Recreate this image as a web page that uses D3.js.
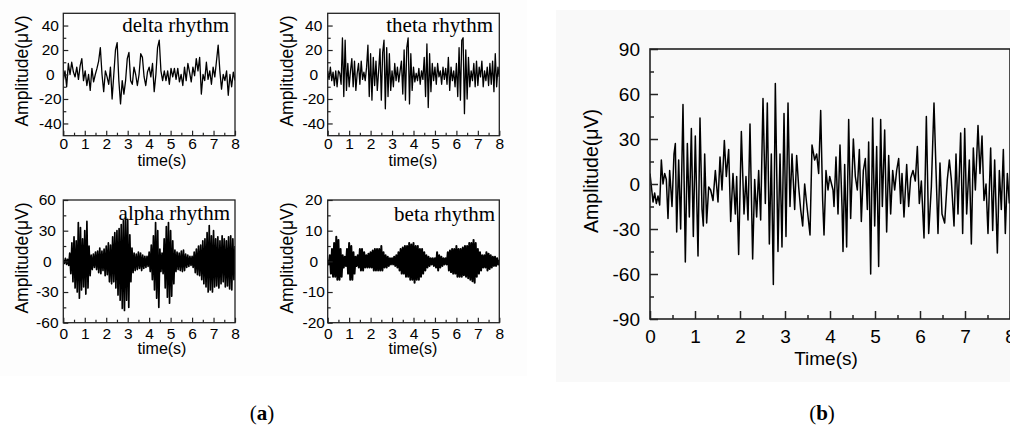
<!DOCTYPE html>
<html><head><meta charset="utf-8">
<script src="https://cdn.jsdelivr.net/npm/d3@7"></script>
<style>html,body{margin:0;padding:0;background:#fff;overflow:hidden;} svg{display:block;}</style>
</head><body>
<script>
// ---------------- data ----------------
const timeTicks = [0, 1, 2, 3, 4, 5, 6, 7, 8];
const timeMinorTicks = [0.5, 1.5, 2.5, 3.5, 4.5, 5.5, 6.5, 7.5];

const rhythmNames = ["delta rhythm", "theta rhythm", "alpha rhythm", "beta rhythm"];

const deltaYTicks = [-40, -20, 0, 20, 40];
const deltaYMinor = [-30, -10, 10, 30];
const thetaYTicks = [-40, -20, 0, 20, 40];
const thetaYMinor = [-30, -10, 10, 30];
const alphaYTicks = [-60, -30, 0, 30, 60];
const alphaYMinor = [-45, -15, 15, 45];
const betaYTicks = [-20, -10, 0, 10, 20];
const betaYMinor = [-15, -5, 5, 15];
const rawYTicks = [-90, -60, -30, 0, 30, 60, 90];
const rawYMinor = [-75, -45, -15, 15, 45, 75];

// delta rhythm (µV), evenly sampled over 0–8 s
const deltaValues = [-5, 3, -10, 9, 0, 10, 2, -2, 6, -4, 7, 13, -5, 3, -9, 0, -13, 5, -6, 0,
  5, 11, 22, 0, -14, 3, -2, -8, 6, -20, 0, 20, 26, -5, -24, -5, -16, -5, 13, 18,
  -5, -8, 6, 0, -9, 0, 17, 14, -2, -9, 2, 6, -2, 9, -14, 0, 22, 28, 3, -5,
  3, -5, 3, -8, 5, -2, 5, -4, 5, -6, 0, -9, 6, -5, 9, 2, -6, 6, -1, 13,
  3, 14, -16, 0, -5, 10, -4, 3, -8, 6, -2, 11, 24, 3, -12, 0, -5, 3, -17, 0,
  -10, 2, -5];

// theta rhythm (µV), evenly sampled over 0–8 s
const thetaValues = [3, -4, 6, -5, 2, -9, 3, -10, 3, 1,
  -8, 30, -18, 28, -13, 9, -10, 3, 13, -10,
  11, -13, 1, 9, -8, 11, -4, 2, -5, 6,
  24, -18, 17, -21, 14, -9, 11, -13, 3, 21,
  -21, 18, 28, -28, 22, -18, 17, -13, 3, -10,
  9, -5, 6, -6, 3, 11, -16, 20, -21, 22,
  30, -24, 17, -13, 6, -6, 1, -5, 5, -8,
  3, -4, 14, -18, 25, -27, 17, -14, 9, -5,
  6, -8, 9, -2, 3, -8, 6, -4, 5, -8,
  14, -13, 6, -5, 3, -10, 9, -18, 22, -21,
  28, 30, -32, 20, -20, 14, -10, 3, -5, 9,
  -10, 11, -9, 6, -2, 11, -10, 3, -5, 6,
  -9, 9, -8, 11, -14, 17, -10, 6, -2];

// alpha rhythm (µV), evenly sampled over 0–8 s
const alphaValues = [1, -2, 3, -3, 2, -4, 8, -12, 18, -20,
  24, -26, 20, -30, 38, -36, 33, -28, 22, -25,
  30, -32, 39, -26, 15, -14, 6, -8, 7, -6,
  9, -8, 10, -11, 13, -12, 10, -9, 12, -14,
  15, -13, 18, -20, 16, -22, 24, -20, 28, -26,
  30, -33, 32, -38, 36, -46, 40, -48, 43, -38,
  41, -45, 26, -20, 13, -11, 8, -9, 7, -8,
  9, -7, 8, -9, 6, -7, 5, -6, 5, -5,
  9, -10, 16, -18, 25, -28, 38, -36, 30, -45,
  12, -10, 8, -12, 22, -26, 34, -35, 38, -41,
  30, -34, 20, -22, 11, -10, 9, -8, 8, -9,
  10, -10, 11, -9, 7, -6, 6, -5, 5, -4,
  5, -6, 9, -11, 12, -13, 15, -14, 16, -18,
  20, -22, 22, -25, 28, -30, 35, -28, 25, -30,
  30, -25, 22, -24, 24, -26, 20, -22, 25, -20,
  22, -25, 20, -24, 24, -27, 25, -28, 22, -18, 15];

// beta rhythm (µV), evenly sampled over 0–8 s
const betaValues = [0.5, -1, 2, -4, 4, -5, 6, -5, 8, -6,
  7, -6, 4, -5, 2, -2, 1.5, -1.5, 4, -4,
  6, -6, 5, -6, 3, -4, 1.5, -1.5, 2, -2,
  4, -3, 4, -3, 3, -2, 2, -2, 2.5, -2,
  3, -2, 3.5, -3, 4, -3, 4, -3, 4, -3,
  5, -3, 3, -2, 2, -2, 1.5, -1.5, 1, -1,
  1, -1, 1.5, -1.5, 2, -2, 3, -3, 4, -4,
  4.5, -4, 5, -5, 5, -5, 6, -6, 5.5, -6,
  6, -7, 5, -6, 5, -6, 4, -5, 4, -4,
  3, -3, 2, -2, 1.5, -1.5, 1, -1, 1, -1.5,
  1, -2, 3, -3, 2, -2, 1.5, -1.5, 1, -1,
  1, -1, 3, -3, 3.5, -3.5, 4, -4, 4, -4,
  5, -5, 4, -5, 4, -5, 4.5, -4.5, 5, -5,
  5, -5.5, 6, -6, 6, -6.5, 7, -7, 6, -5,
  4, -4, 3, -3, 2, -2, 2, -2, 3, -3,
  2.5, -2.5, 2, -2, 1.5, -1.5, 1.5, -1.5, 1, -1, 0.5];

// raw EEG (panel b): sample times (s) and amplitudes (µV)
const rawTimes = [0, 0.067, 0.104, 0.141, 0.178, 0.215, 0.252, 0.289, 0.326, 0.363,
  0.4, 0.437, 0.489, 0.533, 0.563, 0.593, 0.637, 0.681, 0.733, 0.785,
  0.83, 0.874, 0.919, 0.963, 1.007, 1.067, 1.111, 1.156, 1.185, 1.215,
  1.259, 1.304, 1.348, 1.4, 1.452, 1.511, 1.556, 1.6, 1.652, 1.696,
  1.748, 1.793, 1.844, 1.896, 1.926, 1.97, 2.03, 2.089, 2.133, 2.178,
  2.222, 2.281, 2.326, 2.37, 2.415, 2.459, 2.511, 2.563, 2.607, 2.652,
  2.696, 2.741, 2.785, 2.844, 2.889, 2.933, 2.978, 3.022, 3.067, 3.111,
  3.156, 3.215, 3.259, 3.304, 3.348, 3.393, 3.437, 3.481, 3.556, 3.6,
  3.659, 3.704, 3.748, 3.793, 3.837, 3.867, 3.911, 3.956, 3.993,
  4.067, 4.089, 4.133, 4.178, 4.222, 4.267, 4.289, 4.326, 4.37, 4.415,
  4.459, 4.519, 4.563, 4.607, 4.652, 4.696, 4.741, 4.785, 4.83, 4.859,
  4.904, 4.948, 4.993, 5.037, 5.081, 5.126, 5.163, 5.215, 5.259, 5.304,
  5.348, 5.393, 5.437, 5.481, 5.526, 5.57, 5.6, 5.644, 5.704, 5.748,
  5.793, 5.844, 5.896, 5.941, 5.985, 6.03, 6.089, 6.141, 6.193, 6.252,
  6.311, 6.356, 6.4, 6.444, 6.489, 6.548, 6.607, 6.652, 6.696, 6.756,
  6.8, 6.844, 6.904, 6.948, 6.993, 7.037, 7.096, 7.141, 7.185, 7.23,
  7.289, 7.333, 7.378, 7.422, 7.467, 7.511, 7.57, 7.615, 7.659, 7.719,
  7.763, 7.807, 7.852, 7.896, 7.941, 7.985];
const rawValues = [7, -12, -6, -13, -8, -14, 16, 0, 7, 3,
  -23, 9, -15, 20, 27, -32, 16, -30, 53, -52,
  27, -22, 37, -35, 32, -48, 44, -17, -28, 20,
  -26, -2, -4, -11, 9, -12, 18, -4, 29, 5,
  23, -25, 7, -20, 5, -47, 35, -20, 5, -24,
  40, -50, 3, -22, 9, -24, 57, -13, 54, -40,
  20, -67, 67, -45, 20, -42, 47, -35, 54, -15,
  20, -17, 19, -2, -17, -28, 0, -13, -34, 26,
  16, 20, 7, 49, -11, -34, 9, -4, 5,
  -4, -15, 18, -20, 26, -15, -45, 13, -42, 43,
  -23, 30, 5, -4, 23, -25, 9, 17, -17, 28,
  -60, 44, -28, 25, -55, 43, -15, 36, -32, 19,
  -20, 9, -4, 9, 17, -13, 7, -22, 13, -15,
  4, 9, 2, 25, -13, 2, -36, 45, -33, -2,
  54, 9, -33, 14, -20, -26, 3, 16, 3, -28,
  20, -20, 34, -33, 37, -20, 16, -40, 24, -4,
  39, 7, 32, -11, 0, -33, 24, -31, 16, -46,
  9, -17, 23, -33, 7, -13];

// ---------------- drawing ----------------
const W = 1010, H = 427;
const svg = d3.select("body").append("svg").attr("width", W).attr("height", H);

svg.append("rect").attr("x", 0).attr("y", 0).attr("width", 527).attr("height", 376).attr("fill", "#fdfdfd");
svg.append("rect").attr("x", 556).attr("y", 10).attr("width", 454).attr("height", 372).attr("fill", "#f9f9f9");

const evenTimes = vals => vals.map((v, i) => i * 8 / (vals.length - 1));
const plainFmt = d => String(d);

const panels = [
  { name: rhythmNames[0], vals: deltaValues, yT: deltaYTicks, yM: deltaYMinor, dom: [-50, 50], sw: 1.3,
    x0: 63.3, x1: 235, y0: 13.3, y1: 135.7, ytx: 13, xpad: 2, tlx: 162, tly: 166, alx: 28, aly: 71, nmx: 229, nmy: 32 },
  { name: rhythmNames[1], vals: thetaValues, yT: thetaYTicks, yM: thetaYMinor, dom: [-50, 50], sw: 1.3,
    x0: 327.7, x1: 499.3, y0: 13.3, y1: 135.7, ytx: 14, xpad: 2, tlx: 413, tly: 166, alx: 293, aly: 71, nmx: 493, nmy: 32 },
  { name: rhythmNames[2], vals: alphaValues, yT: alphaYTicks, yM: alphaYMinor, dom: [-60, 60], sw: 1.7,
    x0: 63.3, x1: 235, y0: 200, y1: 322.7, ytx: 16, xpad: 5, tlx: 162, tly: 354, alx: 28, aly: 258, nmx: 230, nmy: 220 },
  { name: rhythmNames[3], vals: betaValues, yT: betaYTicks, yM: betaYMinor, dom: [-20, 20], sw: 2.0,
    x0: 327.7, x1: 499.3, y0: 200, y1: 322.7, ytx: 14, xpad: 5, tlx: 413, tly: 354, alx: 293, aly: 258, nmx: 495, nmy: 221 }
];

panels.forEach((p, k) => {
  const x = d3.scaleLinear().domain([0, 8]).range([p.x0, p.x1]);
  const y = d3.scaleLinear().domain(p.dom).range([p.y1, p.y0]);
  const g = svg.append("g");
  const clipId = "clipA" + k;
  svg.append("clipPath").attr("id", clipId).append("rect")
    .attr("x", p.x0).attr("y", p.y0).attr("width", p.x1 - p.x0).attr("height", p.y1 - p.y0);

  const times = evenTimes(p.vals);
  const line = d3.line().x((d, i) => x(times[i])).y(d => y(d));
  g.append("path").datum(p.vals).attr("d", line).attr("clip-path", `url(#${clipId})`)
    .attr("fill", "none").attr("stroke", "#000").attr("stroke-width", p.sw).attr("stroke-linejoin", "round");

  const gx = g.append("g").attr("transform", `translate(0,${p.y1})`)
    .call(d3.axisBottom(x).tickValues(timeTicks).tickSize(-5).tickPadding(p.xpad).tickFormat(plainFmt));
  g.append("g").attr("transform", `translate(0,${p.y1})`)
    .call(d3.axisBottom(x).tickValues(timeMinorTicks).tickSize(-3).tickFormat(""));
  const gy = g.append("g").attr("transform", `translate(${p.x0},0)`)
    .call(d3.axisLeft(y).tickValues(p.yT).tickSize(-5).tickPadding(p.ytx).tickFormat(plainFmt));
  g.append("g").attr("transform", `translate(${p.x0},0)`)
    .call(d3.axisLeft(y).tickValues(p.yM).tickSize(-3).tickFormat(""));
  g.selectAll(".domain").remove();
  g.selectAll(".tick line").attr("stroke", "#222").attr("stroke-width", 1.2);
  gx.selectAll("text").attr("font-family", "Liberation Sans, Arial, sans-serif").attr("font-size", 15.5).attr("fill", "#000");
  gy.selectAll("text").attr("font-family", "Liberation Sans, Arial, sans-serif").attr("font-size", 15.5).attr("fill", "#000")
    .attr("text-anchor", "middle");

  g.append("rect").attr("x", p.x0).attr("y", p.y0).attr("width", p.x1 - p.x0).attr("height", p.y1 - p.y0)
    .attr("fill", "none").attr("stroke", "#222").attr("stroke-width", 1.3);

  g.append("text").attr("x", p.tlx).attr("y", p.tly).attr("text-anchor", "middle")
    .attr("font-family", "Liberation Sans, Arial, sans-serif").attr("font-size", 16).text("time(s)");
  g.append("text").attr("transform", `translate(${p.alx},${p.aly}) rotate(-90)`).attr("text-anchor", "middle")
    .attr("font-family", "Liberation Sans, Arial, sans-serif").attr("font-size", 17.5).text("Amplitude(μV)");
  g.append("text").attr("x", p.nmx).attr("y", p.nmy).attr("text-anchor", "end")
    .attr("font-family", "Liberation Serif, Times New Roman, serif").attr("font-size", 21).text(p.name);
});

// panel b
(function () {
  const x0 = 650, x1 = 1010, y0 = 49, y1 = 319;
  const x = d3.scaleLinear().domain([0, 8]).range([x0, x1]);
  const y = d3.scaleLinear().domain([-90, 90]).range([y1, y0]);
  const g = svg.append("g");
  svg.append("clipPath").attr("id", "clipB").append("rect")
    .attr("x", x0).attr("y", y0).attr("width", x1 - x0).attr("height", y1 - y0);
  const line = d3.line().x((d, i) => x(rawTimes[i])).y(d => y(d));
  g.append("path").datum(rawValues).attr("d", line).attr("clip-path", "url(#clipB)")
    .attr("fill", "none").attr("stroke", "#000").attr("stroke-width", 1.5).attr("stroke-linejoin", "round");

  g.append("g").attr("transform", `translate(0,${y1})`)
    .call(d3.axisBottom(x).tickValues(timeTicks).tickSize(-8).tickPadding(11).tickFormat(plainFmt));
  g.append("g").attr("transform", `translate(0,${y1})`)
    .call(d3.axisBottom(x).tickValues(timeMinorTicks).tickSize(-4).tickFormat(""));
  g.append("g").attr("transform", `translate(${x0},0)`)
    .call(d3.axisLeft(y).tickValues(rawYTicks).tickSize(-8).tickPadding(10).tickFormat(plainFmt));
  g.append("g").attr("transform", `translate(${x0},0)`)
    .call(d3.axisLeft(y).tickValues(rawYMinor).tickSize(-4).tickFormat(""));
  g.selectAll(".domain").remove();
  g.selectAll(".tick line").attr("stroke", "#222").attr("stroke-width", 1.5);
  g.selectAll(".tick text").attr("font-family", "Liberation Sans, Arial, sans-serif").attr("font-size", 19).attr("fill", "#000");

  g.append("rect").attr("x", x0).attr("y", y0).attr("width", x1 - x0).attr("height", y1 - y0)
    .attr("fill", "none").attr("stroke", "#222").attr("stroke-width", 1.6);

  g.append("text").attr("x", 826).attr("y", 365).attr("text-anchor", "middle")
    .attr("font-family", "Liberation Sans, Arial, sans-serif").attr("font-size", 19).text("Time(s)");
  g.append("text").attr("transform", "translate(598,171) rotate(-90)").attr("text-anchor", "middle")
    .attr("font-family", "Liberation Sans, Arial, sans-serif").attr("font-size", 19.5).text("Amplitude(μV)");
})();

// captions
[["a", 262], ["b", 822]].forEach(([c, cx]) => {
  const t = svg.append("text").attr("x", cx).attr("y", 420).attr("text-anchor", "middle")
    .attr("font-family", "Liberation Serif, Times New Roman, serif").attr("font-size", 21);
  t.append("tspan").text("(");
  t.append("tspan").attr("font-weight", "bold").text(c);
  t.append("tspan").text(")");
});
</script>
</body></html>
